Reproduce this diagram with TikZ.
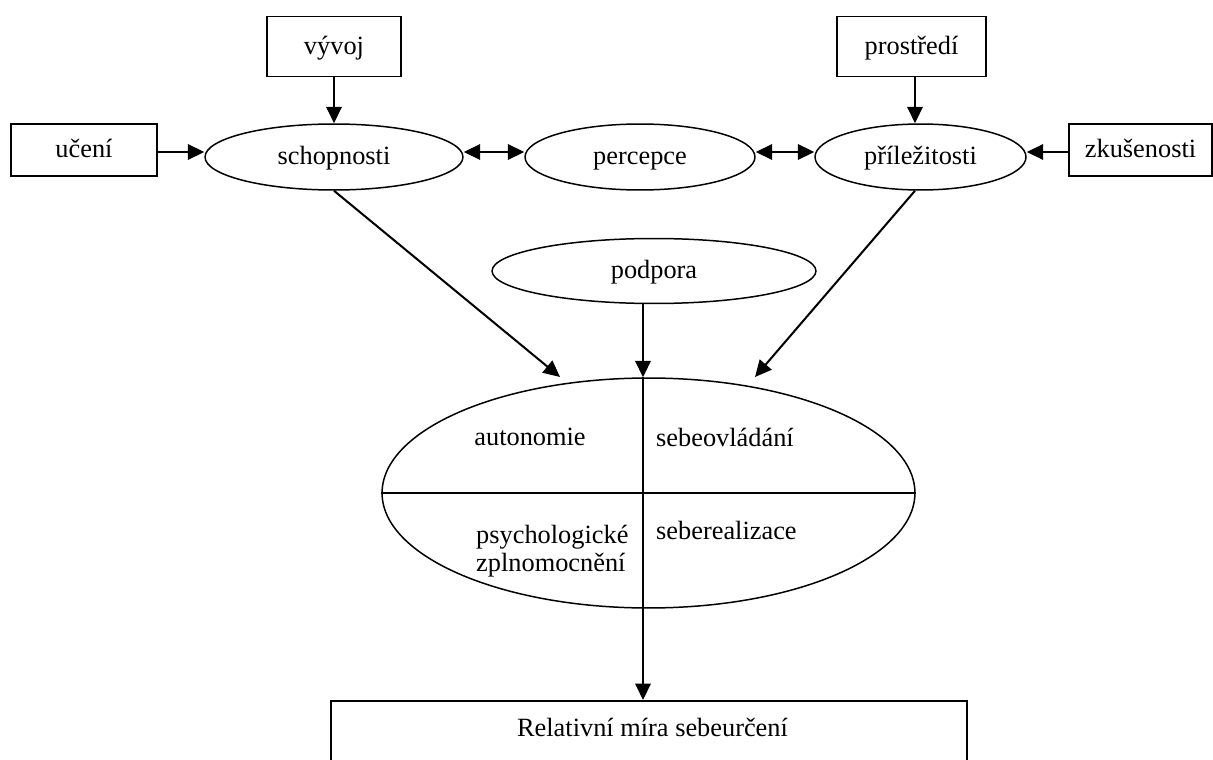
\documentclass[tikz,border=0pt]{standalone}
\usepackage{fontspec}
\setmainfont{Liberation Serif}
\usetikzlibrary{shapes.geometric,arrows.meta}
\begin{document}
\begin{tikzpicture}[x=0.02cm, y=-0.02cm,
        font=\fontsize{15pt}{15.9pt}\selectfont,
        every node/.style={text height=0.42cm, text depth=0.11cm},
        box/.style={draw, line width=0.85pt, rectangle, inner sep=0pt},
        oval/.style={draw, line width=0.85pt, ellipse, inner sep=0pt, minimum height=1.32cm},
        arr/.style={line width=1.15pt, -{Triangle[length=0.33cm, width=0.31cm]}},
        both/.style={line width=1.15pt, {Triangle[length=0.33cm, width=0.31cm]}-{Triangle[length=0.33cm, width=0.31cm]}}]
        % page
        \clip (0,0) rectangle (1213,760);
        % outer factors
        \node[box, minimum width=2.68cm, minimum height=1.2cm]  (vyvoj)      at (334,46.5)   {vývoj};
        \node[box, minimum width=2.98cm, minimum height=1.2cm]  (prostredi)  at (911.5,46.5) {prostředí};
        \node[box, minimum width=2.92cm, minimum height=1.04cm] (uceni)      at (84,150)     {učení};
        \node[box, minimum width=2.86cm, minimum height=1.04cm] (zkusenosti) at (1140.5,150) {zkušenosti};
        % middle row
        \node[oval, minimum width=5.16cm] (schopnosti)   at (334,157)   {schopnosti};
        \node[oval, minimum width=4.6cm]  (percepce)     at (640,157)   {percepce};
        \node[oval, minimum width=4.22cm] (prilezitosti) at (920.5,157) {příležitosti};
        \node[oval, minimum width=6.48cm, minimum height=1.3cm] (podpora) at (654,271) {podpora};
        % self-determination
        \node[oval, minimum width=10.66cm, minimum height=4.6cm] (sebe) at (648.5,493) {};
        \coordinate (axis) at (643,0);
        \coordinate (inL)  at (560,377);
        \coordinate (inR)  at (755,377);
        \draw[line width=0.85pt] (sebe.west) -- (sebe.east);
        \draw[line width=0.85pt] (sebe.north -| axis) -- (sebe.south -| axis);
        \node (autonomie)  at (530,438) {autonomie};
        \node[anchor=west] (sebeovladani)  at (650,439) {sebeovládání};
        \node[anchor=west, align=left] (zplnomocneni) at (470,564) {psychologické\\zplnomocnění};
        \node[anchor=west] (seberealizace) at (650,532) {seberealizace};
        % result
        \node[box, anchor=north, minimum width=12.72cm, text height=0.72cm, text depth=0.8cm] (result) at (649,700) {\hspace*{0.14cm}Relativní míra sebeurčení};
        % arrows
        \draw[arr] (vyvoj) -- (schopnosti);
        \draw[arr] (prostredi.south -| 915,0) -- (prilezitosti.north -| 915,0);
        \draw[arr] (uceni.east |- 0,152) -- (schopnosti.west |- 0,152);
        \draw[arr] (zkusenosti.west |- 0,152) -- (prilezitosti.east |- 0,152);
        \draw[both] (schopnosti.east |- 0,152) -- (percepce.west |- 0,152);
        \draw[both] (percepce.east |- 0,152) -- (prilezitosti.west |- 0,152);
        \draw[arr] (schopnosti.south) -- (inL);
        \draw[arr] (prilezitosti.south -| 915,0) -- (inR);
        \draw[arr] (podpora.south -| axis) -- (sebe.north -| axis);
        \draw[arr] (sebe.south -| axis) -- (result.north -| axis);
\end{tikzpicture}
\end{document}
